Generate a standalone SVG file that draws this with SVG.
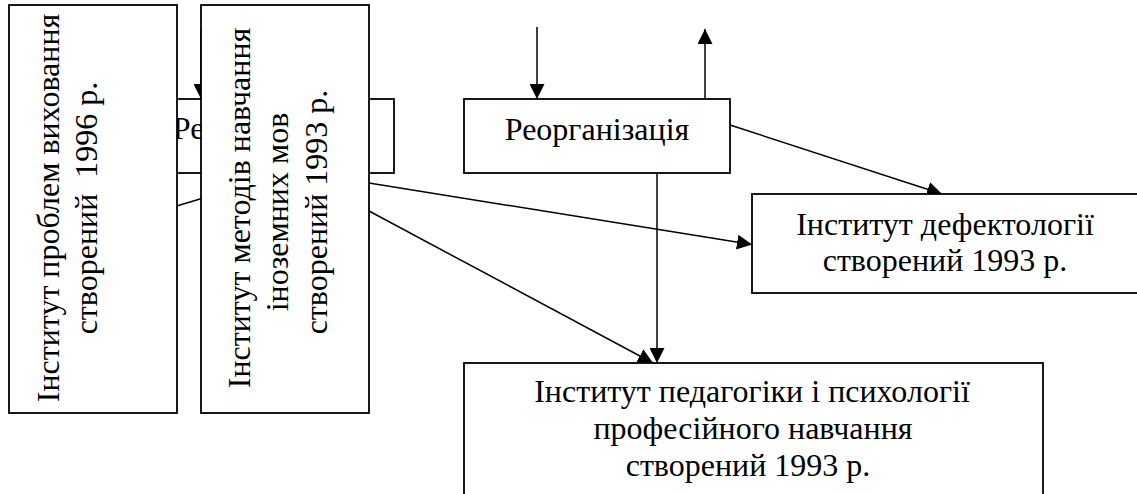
<svg xmlns="http://www.w3.org/2000/svg" width="1137" height="494" viewBox="0 0 1137 494">
<style>
.box{fill:#fff;stroke:#000;stroke-width:1.8}
.ln{fill:none;stroke:#000;stroke-width:1.5}
.t{font-family:"Liberation Serif",serif;font-size:32px;fill:#000;text-anchor:middle}
</style>
<defs>
<marker id="ah" viewBox="0 0 10 10" refX="10" refY="5" markerWidth="15" markerHeight="15" markerUnits="userSpaceOnUse" orient="auto">
<path d="M0,0 L10,5 L0,10 Z" fill="#000"/>
</marker>
</defs>
<rect width="1137" height="494" fill="#fff"/>
<g id="node-reorg-hidden">
<rect class="box" x="133" y="99" width="261" height="74"/>
<text class="t" x="265" y="139">Реорганізація</text>
</g>
<g id="connectors">
<line class="ln" x1="201" y1="30" x2="201" y2="99" marker-end="url(#ah)"/>
<line class="ln" x1="165" y1="209.5" x2="210" y2="196"/>
<line class="ln" x1="537" y1="27" x2="537" y2="99" marker-end="url(#ah)"/>
<line class="ln" x1="705" y1="99" x2="705" y2="29" marker-end="url(#ah)"/>
<line class="ln" x1="730" y1="125" x2="942" y2="194" marker-end="url(#ah)"/>
<line class="ln" x1="657" y1="173" x2="657" y2="363" marker-end="url(#ah)"/>
<line class="ln" x1="369" y1="183" x2="752" y2="244.5" marker-end="url(#ah)"/>
<line class="ln" x1="369" y1="211" x2="653" y2="363" marker-end="url(#ah)"/>
</g>
<g id="node-reorg">
<rect class="box" x="464" y="99" width="266" height="74"/>
<text class="t" x="597" y="140">Реорганізація</text>
</g>
<g id="node-defect">
<rect class="box" x="752" y="194" width="400" height="99"/>
<text class="t" x="945" y="235">Інститут дефектології</text>
<text class="t" x="945" y="271">створений 1993 р.</text>
</g>
<g id="node-pedag">
<rect class="box" x="464" y="363" width="579" height="150"/>
<text class="t" x="752" y="402">Інститут педагогіки і психології</text>
<text class="t" x="753" y="439">професійного навчання</text>
<text class="t" x="748" y="476">створений 1993 р.</text>
</g>
<g id="node-vykhovannia">
<rect class="box" x="9" y="5" width="168" height="408"/>
<text class="t" transform="translate(59,208) rotate(-90)">Інститут проблем виховання</text>
<text class="t" transform="translate(97,208) rotate(-90)" xml:space="preserve">створений  1996 р.</text>
</g>
<g id="node-movy">
<rect class="box" x="201" y="5" width="168" height="408"/>
<text class="t" transform="translate(250,208) rotate(-90)">Інститут методів навчання</text>
<text class="t" transform="translate(288,212) rotate(-90)">іноземних мов</text>
<text class="t" transform="translate(327,212) rotate(-90)">створений 1993 р.</text>
</g>
</svg>
